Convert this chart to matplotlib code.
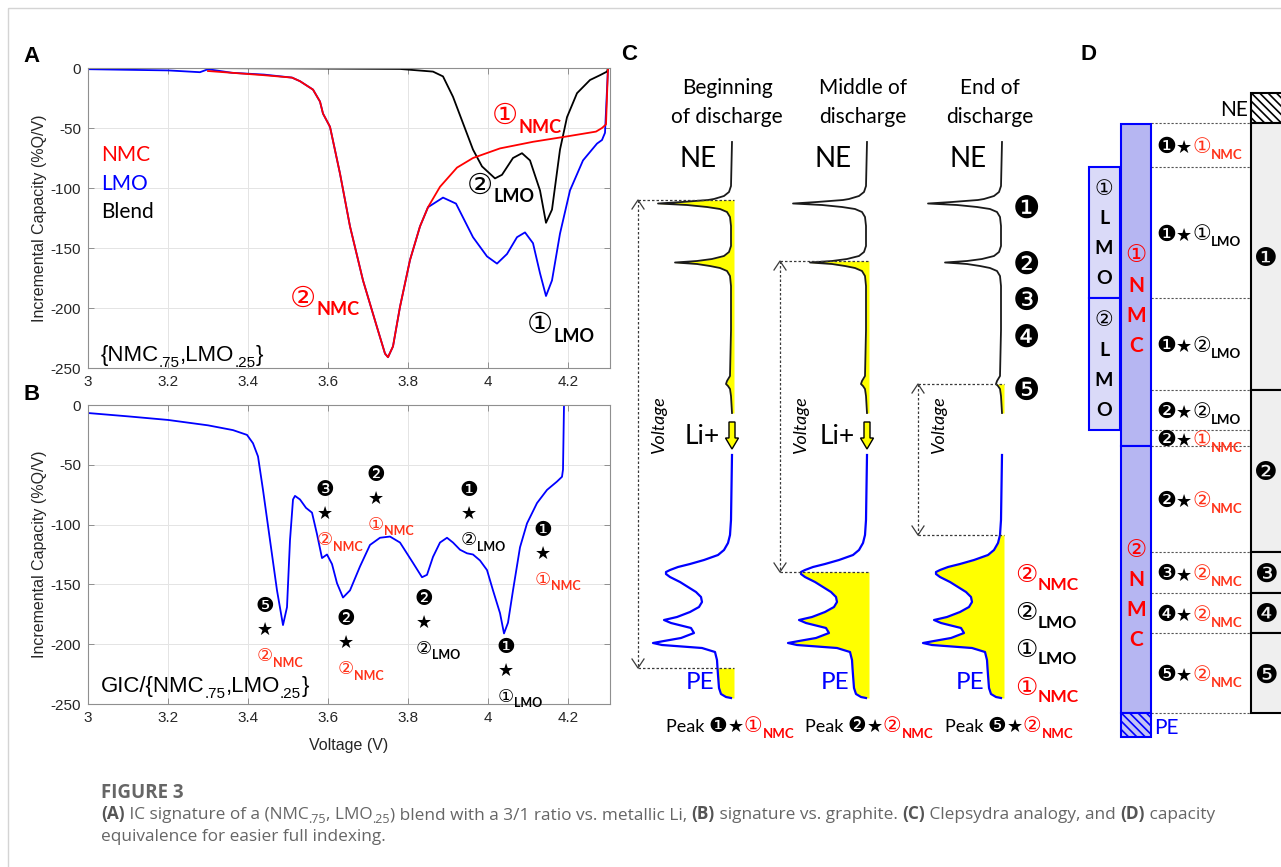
import numpy as np
import matplotlib
matplotlib.use('Agg')
import matplotlib.pyplot as plt
from matplotlib.patches import Rectangle, FancyArrow
from matplotlib.transforms import offset_copy

plt.rcParams['hatch.linewidth'] = 1.2

W, H = 1281, 867
SANS = 'Liberation Sans'
BODY = 'Lato'
SYM = ['DejaVu Sans', 'Noto Sans CJK JP']
CAPF = 'Open Sans'
RED = '#ff0000'
ORANGE = '#ff3219'
BLUE = '#0000ff'
YELLOW = '#ffff00'
AXC = '#8f8f8f'

# ---- (A) incremental capacity vs metallic Li, V and %Q/V ----
lmo_v = [3.00, 3.20, 3.28, 3.30, 3.36, 3.44, 3.51, 3.53, 3.5625, 3.58, 3.5875, 3.605, 3.63, 3.655,
         3.6875, 3.7225, 3.7425, 3.75, 3.7625, 3.78, 3.805, 3.83, 3.85, 3.8875, 3.92, 3.9625, 3.9975,
         4.0225, 4.0475, 4.0725, 4.0925, 4.1125, 4.13, 4.145, 4.16, 4.18, 4.205, 4.2375, 4.2725,
         4.285, 4.2925, 4.30]
lmo_q = [-1, -2, -3.5, -1, -4, -5.5, -8, -11, -18, -28, -38, -49, -88, -132,
         -177, -216, -238, -241, -232, -199, -160, -132, -116, -108, -113, -141, -157,
         -163, -155, -141, -137, -146, -171, -190, -177, -138, -102, -77, -63,
         -60, -54, 0]
nmc_v = [3.30, 3.36, 3.44, 3.51, 3.53, 3.5625, 3.58, 3.5875, 3.605, 3.63, 3.655, 3.6875, 3.7225,
         3.7425, 3.75, 3.7625, 3.78, 3.805, 3.83, 3.85, 3.88, 3.9225, 3.9625, 4.03, 4.1125, 4.1975,
         4.27, 4.285, 4.295, 4.30]
nmc_q = [-2.5, -4, -6, -8, -11, -18, -28, -38, -49, -88, -132, -177, -216,
         -238, -241, -232, -199, -160, -132, -116, -99, -83, -75, -67, -61.5, -57,
         -53, -50, -47, 0]
blend_v = [3.235, 3.50, 3.78, 3.8625, 3.8875, 3.9125, 3.9625, 3.985, 4.0175, 4.035, 4.0625, 4.085,
           4.105, 4.13, 4.145, 4.16, 4.18, 4.1975, 4.2225, 4.255, 4.28, 4.2975, 4.30]
blend_q = [0, -0.3, -0.8, -3, -7, -24, -68, -82, -92, -89, -75, -71,
           -77, -102, -129, -118, -68, -41, -21, -10, -6, -3, 0]

# ---- (B) graphite full cell ----
gic_v = [3.00, 3.10, 3.20, 3.30, 3.3625, 3.3975, 3.4125, 3.425, 3.4375, 3.455, 3.4725, 3.4875,
         3.4975, 3.505, 3.5125, 3.5175, 3.53, 3.545, 3.56, 3.5725, 3.585, 3.5975, 3.61, 3.6225,
         3.6375, 3.655, 3.68, 3.705, 3.73, 3.755, 3.78, 3.8125, 3.835, 3.8475, 3.8625, 3.88, 3.8975,
         3.9125, 3.93, 3.9475, 3.9625, 3.98, 3.9975, 4.0125, 4.03, 4.04, 4.05, 4.0625, 4.08, 4.0975,
         4.1225, 4.1475, 4.1725, 4.185, 4.1875, 4.19]
gic_q = [-6.7, -9.5, -12.5, -17, -21, -25, -32, -43, -71, -113, -155, -184,
         -169, -113, -79, -76, -79, -86, -90, -108, -128, -125, -133, -149,
         -161, -155, -135, -117, -111, -110, -115, -132, -144, -142, -127, -115, -111,
         -115, -121, -124, -125, -130, -138, -155, -174, -191, -182, -155, -119, -99,
         -82, -71, -64, -60, -54, 0]

volt_ticks = [3, 3.2, 3.4, 3.6, 3.8, 4, 4.2]
volt_labels = ['3', '3.2', '3.4', '3.6', '3.8', '4', '4.2']
cap_ticks = [-250, -200, -150, -100, -50, 0]
cap_labels = ['-250', '-200', '-150', '-100', '-50', '0']

# peak indexing written on the curves
a_tag_v = [3.505, 4.01, 3.9475, 4.0975]
a_tag_q = [-190, -38, -96, -212]
a_tag_phase = ['②', '①', '②', '①']
a_tag_mat = ['NMC', 'NMC', 'LMO', 'LMO']

b_tag_v = [3.4425, 3.5925, 3.72, 3.645, 3.84, 3.9525, 4.045, 4.1375]
b_tag_q = [-187, -90, -77, -198, -181, -90, -221, -123]
b_tag_peak = ['❺', '❸', '❷', '❷', '❷', '❶', '❶', '❶']
b_tag_phase = ['②', '②', '①', '②', '②', '②', '①', '①']
b_tag_mat = ['NMC', 'NMC', 'NMC', 'NMC', 'LMO', 'LMO', 'LMO', 'NMC']

# ---- (C) clepsydra: electrode IC profiles, peak height drawn to the left ----
ne_y = [142, 186, 192, 196, 199, 200, 202, 203.5, 205, 207, 209, 212, 217, 226, 246, 252, 256,
        259, 261, 262.5, 264, 266, 268, 271, 276, 286, 330, 376, 381, 384, 386, 389, 396, 413]
ne_ic = [0, 1, 3, 8, 18, 24, 50, 74, 45, 25, 12, 5, 2, 1, 1, 3, 8,
         20, 35, 57, 35, 22, 12, 5, 2, 1, 1, 2, 5, 6, 4, 2, 1, 0]
pe_y = [455, 520, 535, 543, 550, 555, 560, 564, 567, 570, 572, 574, 577, 582, 587, 592, 597, 602,
        607, 612, 617, 620, 623, 628, 633, 638, 641, 643, 645, 648, 652, 660, 668, 675, 688, 694,
        697, 698]
pe_ic = [0, 1, 2, 4, 8, 14, 28, 42, 54, 62, 66, 66, 62, 52, 44, 36, 31, 30,
         33, 42, 55, 68, 61, 41, 38, 51, 68, 79, 70, 30, 17, 15, 14.5, 14, 13, 11,
         6, 1]
c_titles = [('Beginning', 'of discharge'), ('Middle of', 'discharge'), ('End of', 'discharge')]
c_ne_level = [200, 261, 384]
c_pe_level = [668, 572, 535]
c_peak = [('❶', '①'), ('❷', '②'), ('❺', '②')]
c_ne_marks = ['❶', '❷', '❸', '❹', '❺']
c_ne_mark_y = [207, 263, 299, 336, 389]
c_pe_phase = ['②', '②', '①', '①']
c_pe_mat = ['NMC', 'LMO', 'LMO', 'NMC']
c_pe_y = [573, 611, 648, 686]

# ---- (D) capacity equivalence ----
d_levels = [123, 167, 298, 390, 430, 446, 552, 593, 633, 713]
d_seg_peak = ['❶', '❶', '❶', '❷', '❷', '❷', '❸', '❹', '❺']
d_seg_phase = ['①', '①', '②', '②', '①', '②', '②', '②', '②']
d_seg_mat = ['NMC', 'LMO', 'LMO', 'LMO', 'NMC', 'NMC', 'NMC', 'NMC', 'NMC']
d_peak_edges = [123, 390, 552, 593, 633, 713]
d_nmc_edges = [124, 446, 713]
d_lmo_edges = [167, 298, 430]

# layout, in pixels of the final image
c_base = [732, 867, 1002]
c_title_x = [727, 863, 990]
c_arrow_x = [638, 780, 918]
c_peak_x = [730, 869, 1009]

fig = plt.figure(figsize=(W / 100, H / 100), dpi=100)
renderer = fig.canvas.get_renderer()


def piece_width(s, st):
    kw = dict(fontsize=st['size'], family=st.get('family', BODY),
              fontweight=st.get('weight', 'normal'), fontstyle=st.get('style', 'normal'))
    a = fig.text(0, 0, '|' + s + '|', **kw)
    b = fig.text(0, 0, '||', **kw)
    w = a.get_window_extent(renderer).width - b.get_window_extent(renderer).width
    a.remove()
    b.remove()
    return w


def rich(ax, x, y, pieces, ha='left', trans=None, dx=0, dy=0):
    """Pieces of differing style on one baseline; y is the middle of the first piece."""
    trans = ax.transData if trans is None else trans
    widths = [piece_width(s, st) for s, st in pieces]
    x0 = {'left': 0, 'center': -sum(widths) / 2, 'right': -sum(widths),
          'first': -widths[0] / 2}[ha] + dx
    base = -0.36 * pieces[0][1]['size'] * 100 / 72 + dy
    for (s, st), w in zip(pieces, widths):
        tr = offset_copy(trans, fig=fig, x=x0, y=base + st.get('dy', 0), units='dots')
        ax.text(x, y, s, transform=tr, ha='left', va='baseline', fontsize=st['size'],
                family=st.get('family', BODY), fontweight=st.get('weight', 'normal'),
                fontstyle=st.get('style', 'normal'), color=st.get('color', 'black'), zorder=6)
        x0 += w


def tag(num, mat, color, size, sub):
    return [(num, dict(size=size, family=SYM, color=color)),
            (mat, dict(size=sub, weight='bold', color=color, dy=-0.3 * size * 100 / 72))]


def sym(s, size, color='black'):
    return [(s, dict(size=size, family=SYM, color=color))]


def ic_axes(top, bottom):
    ax = fig.add_axes([88 / W, 1 - bottom / H, 522 / W, (bottom - top) / H])
    ax.set_xlim(3, 4.305)
    ax.set_ylim(-250, 0)
    ax.set_xticks(volt_ticks, volt_labels)
    ax.set_yticks(cap_ticks, cap_labels)
    ax.grid(True, color='#e4e4e4', lw=0.7)
    ax.set_axisbelow(True)
    for s in ax.spines.values():
        s.set_color(AXC)
        s.set_linewidth(0.8)
    ax.tick_params(direction='in', length=4, width=0.7, color=AXC, labelcolor='#262626',
                   labelsize=11, pad=5, top=True, right=True)
    for lab in ax.get_xticklabels() + ax.get_yticklabels():
        lab.set_family(SANS)
    ax.set_ylabel('Incremental Capacity (%Q/V)', family=SANS, fontsize=11.5, color='#262626')
    ax.yaxis.set_label_coords(-0.078, 0.5)
    return ax


def mat_color(m):
    return ORANGE if m == 'NMC' else 'black'


# ---------------- A ----------------
axA = ic_axes(68, 368)
axA.plot(lmo_v, lmo_q, color=BLUE, lw=1.3)
axA.plot(blend_v, blend_q, color='black', lw=1.3)
axA.plot(nmc_v, nmc_q, color=RED, lw=1.3)
for txt, col, q in [('NMC', RED, -71), ('LMO', BLUE, -95), ('Blend', 'black', -119)]:
    rich(axA, 3.0325, q, [(txt, dict(size=15, color=col))])
sub = dict(size=11, family=SANS, dy=-6)
big = dict(size=16, family=SANS)
rich(axA, 3.0325, -237.5, [('{NMC', big), ('.75', sub), (',LMO', big), ('.25', sub), ('}', big)])
for v, q, ph, m, col in zip(a_tag_v, a_tag_q, a_tag_phase, a_tag_mat, [RED, RED, 'black', 'black']):
    rich(axA, v, q, tag(ph, m, col, 21, 13))

# ---------------- B ----------------
axB = ic_axes(405, 704)
axB.plot(gic_v, gic_q, color=BLUE, lw=1.3)
axB.set_xlabel('Voltage (V)', family=SANS, fontsize=11.5, color='#262626')
axB.xaxis.set_label_coords(0.5, -0.115)
rich(axB, 3.0325, -233, [('GIC/{NMC', big), ('.75', sub), (',LMO', big), ('.25', sub), ('}', big)])
for v, q, pk, ph, m in zip(b_tag_v, b_tag_q, b_tag_peak, b_tag_phase, b_tag_mat):
    rich(axB, v, q, sym(pk, 15), ha='center', dy=24)
    rich(axB, v, q, sym('★', 13), ha='center')
    rich(axB, v, q, tag(ph, m, mat_color(m), 13, 9), ha='first', dy=-26)

# ---------------- overlay for C, D and caption ----------------
ov = fig.add_axes([0, 0, 1, 1])
ov.set_xlim(0, W)
ov.set_ylim(H, 0)
ov.set_axis_off()
ov.add_patch(Rectangle((8, 8), W, H, fill=False, ec='#d4d4d4', lw=1))

for lab, x, y in [('A', 32, 56), ('B', 32, 395), ('C', 629, 54), ('D', 1088, 55)]:
    ov.text(x, y, lab, family=SANS, fontweight='bold', fontsize=16, ha='center', va='center')

ne_y_arr = np.asarray(ne_y)
pe_y_arr = np.asarray(pe_y)
dash = dict(color='#3a3a3a', lw=0.9, ls=(0, (2, 1.6)), zorder=4)
for k, b in enumerate(c_base):
    ne_x = b - np.asarray(ne_ic)
    pe_x = b - np.asarray(pe_ic)
    ov.fill_betweenx(ne_y_arr, ne_x, b + 2, where=ne_y_arr >= c_ne_level[k], color=YELLOW, lw=0, zorder=1)
    ov.fill_betweenx(pe_y_arr, pe_x, b + 2, where=pe_y_arr >= c_pe_level[k], color=YELLOW, lw=0, zorder=1)
    ov.plot(ne_x, ne_y_arr, color='#1a1a1a', lw=1.3, zorder=3)
    ov.plot(pe_x, pe_y_arr, color=BLUE, lw=1.6, zorder=3)

    t1, t2 = c_titles[k]
    ov.text(c_title_x[k], 88, t1, family=BODY, fontsize=15, ha='center', va='center')
    ov.text(c_title_x[k], 117, t2, family=BODY, fontsize=15, ha='center', va='center')
    rich(ov, b - 15, 157, [('NE', dict(size=20))], ha='right')
    rich(ov, b - 18, 680, [('PE', dict(size=17.5, color=BLUE))], ha='right')

    # voltage window of the cell
    xa, top, bot = c_arrow_x[k], c_ne_level[k], c_pe_level[k]
    ov.plot([xa, xa], [top, bot], **dash)
    ov.plot([xa, b + 2], [top, top], **dash)
    ov.plot([xa, b + 2], [bot, bot], **dash)
    ov.plot([xa - 6, xa, xa + 6], [top + 9, top, top + 9], color='#3a3a3a', lw=0.9, zorder=4)
    ov.plot([xa - 6, xa, xa + 6], [bot - 9, bot, bot - 9], color='#3a3a3a', lw=0.9, zorder=4)
    ov.text(xa + 21, 425, 'Voltage', family=BODY, fontstyle='italic', fontsize=13,
            rotation=90, ha='center', va='center')

    if k < 2:
        rich(ov, b - 12, 435, [('Li+', dict(size=19))], ha='right')
        ov.add_patch(FancyArrow(b, 422, 0, 27, width=6, head_width=13, head_length=11,
                                length_includes_head=True, fc=YELLOW, ec='black', lw=1, zorder=5))

    pk, ph = c_peak[k]
    rich(ov, c_peak_x[k], 725, [('Peak ', dict(size=13)), (pk, dict(size=15, family=SYM)),
                                ('★', dict(size=13, family=SYM)), (ph, dict(size=15, family=SYM, color=RED)),
                                ('NMC', dict(size=9.5, weight='bold', color=RED, dy=-6))], ha='center')

for mk, y in zip(c_ne_marks, c_ne_mark_y):
    rich(ov, 1026, y, sym(mk, 22), ha='center')
for ph, m, y in zip(c_pe_phase, c_pe_mat, c_pe_y):
    rich(ov, 1015, y, tag(ph, m, RED if m == 'NMC' else 'black', 18, 12.5))

# ---------------- D ----------------
ov.add_patch(Rectangle((1251, 93), 60, 30, fc='white', ec='black', lw=1.5, hatch='\\\\\\\\', zorder=2))
for y0, y1, mk in zip(d_peak_edges[:-1], d_peak_edges[1:], c_ne_marks):
    ov.add_patch(Rectangle((1251, y0), 60, y1 - y0, fc='#efefef', ec='black', lw=1.5, zorder=2))
    rich(ov, 1266, (y0 + y1) / 2, sym(mk, 19), ha='center')
rich(ov, 1248, 109, [('NE', dict(size=15))], ha='right')

for y0, y1, ph in zip(d_nmc_edges[:-1], d_nmc_edges[1:], ['①', '②']):
    ov.add_patch(Rectangle((1121, y0), 30, y1 - y0, fc='#b6b6f2', ec=BLUE, lw=1.5, zorder=2))
    yc = (y0 + y1) / 2 + 14
    for j, ch in enumerate([ph, 'N', 'M', 'C']):
        if j == 0:
            rich(ov, 1136, yc - 45, sym(ch, 17, RED), ha='center')
        else:
            rich(ov, 1136, yc - 45 + 30 * j, [(ch, dict(size=15, weight='bold', color=RED))], ha='center')
ov.add_patch(Rectangle((1121, 713), 30, 24, fc='#c4c4f4', ec=BLUE, lw=1.5, hatch='\\\\\\\\', zorder=2))
rich(ov, 1154, 727, [('PE', dict(size=15, color=BLUE))])

for y0, y1, ph in zip(d_lmo_edges[:-1], d_lmo_edges[1:], ['①', '②']):
    ov.add_patch(Rectangle((1089, y0), 31, y1 - y0, fc='#dadaf8', ec=BLUE, lw=1.5, zorder=2))
    yc = (y0 + y1) / 2
    for j, ch in enumerate([ph, 'L', 'M', 'O']):
        if j == 0:
            rich(ov, 1104, yc - 45, sym(ch, 15), ha='center')
        else:
            rich(ov, 1104, yc - 45 + 30 * j, [(ch, dict(size=14, weight='bold'))], ha='center')

for y in d_levels:
    ov.plot([1151, 1251], [y, y], color='#555555', lw=0.8, ls=(0, (2, 1.6)), zorder=1)
for y0, y1, pk, ph, m in zip(d_levels[:-1], d_levels[1:], d_seg_peak, d_seg_phase, d_seg_mat):
    col = ORANGE if m == 'NMC' else 'black'
    rich(ov, 1156, (y0 + y1) / 2, [(pk, dict(size=16, family=SYM)), ('★', dict(size=13, family=SYM)),
                                   (ph, dict(size=15, family=SYM, color=col)),
                                   (m, dict(size=9.5, weight='bold', color=col, dy=-6))])

# ---------------- caption ----------------
reg = dict(size=12.4, family=CAPF, color='#666666')
bold = dict(size=12.4, family=CAPF, color='#555555', weight='bold')
small = dict(size=9, family=CAPF, color='#666666', dy=-4)
rich(ov, 101, 791, [('FIGURE 3', dict(size=13.5, family=CAPF, color='#666666', weight='bold'))])
rich(ov, 101, 813, [('(A)', bold), (' IC signature of a (NMC', reg), ('.75', small), (', LMO', reg),
                    ('.25', small), (') blend with a 3/1 ratio vs. metallic Li, ', reg), ('(B)', bold),
                    (' signature vs. graphite. ', reg), ('(C)', bold), (' Clepsydra analogy, and ', reg),
                    ('(D)', bold), (' capacity', reg)])
rich(ov, 101, 835, [('equivalence for easier full indexing.', reg)])

fig.savefig('out.png', dpi=100)
